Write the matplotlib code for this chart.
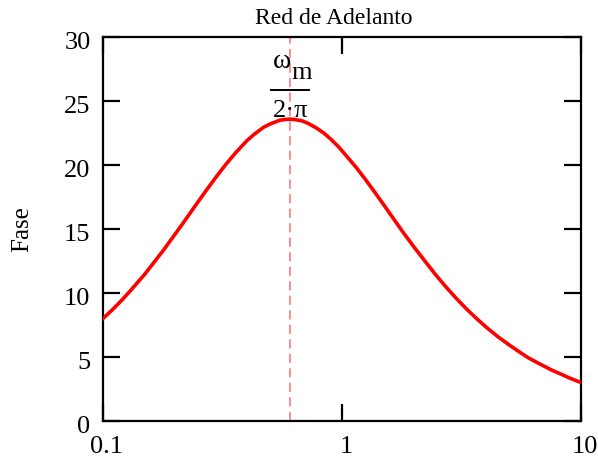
import numpy as np
import matplotlib.pyplot as plt
import matplotlib.transforms as mtransforms

# Datos (frecuencia en escala log, fase en grados)
frecuencia = [0.1, 0.11, 0.12, 0.13, 0.14, 0.15, 0.16, 0.18, 0.2, 0.22, 0.24,
              0.27, 0.3, 0.33, 0.36, 0.4, 0.43, 0.47, 0.5, 0.55, 0.58, 0.605,
              0.63, 0.68, 0.72, 0.78, 0.84, 0.9, 0.97, 1.05, 1.15, 1.25, 1.37,
              1.5, 1.65, 1.8, 2.0, 2.2, 2.45, 2.7, 3.0, 3.3, 3.6, 4.0, 4.5,
              5.0, 5.5, 6.0, 6.7, 7.5, 8.5, 9.0, 10.0]
fase = [8.0, 8.73, 9.45, 10.16, 10.85, 11.5, 12.17, 13.4, 14.58, 15.65, 16.66,
        18.0, 19.16, 20.15, 20.98, 21.9, 22.41, 22.95, 23.2, 23.5, 23.56, 23.58,
        23.56, 23.45, 23.26, 22.9, 22.49, 22.0, 21.4, 20.65, 19.78, 18.9, 17.88,
        16.85, 15.75, 14.75, 13.6, 12.6, 11.49, 10.55, 9.6, 8.8, 8.12, 7.35, 6.57,
        5.95, 5.42, 4.95, 4.47, 4.0, 3.55, 3.34, 3.0]
f_m = 0.605  # omega_m / (2 pi)

y_ticks = [0, 5, 10, 15, 20, 25, 30]
x_ticks = [0.1, 1, 10]
x_labels = ['0.1', '1', '10']

plt.rcParams['font.family'] = ['Liberation Serif', 'DejaVu Serif']

fig = plt.figure(figsize=(5.98, 4.59), dpi=100)
ax = fig.add_axes([0.1722, 0.0828, 0.7994, 0.8366])

ax.plot(frecuencia, fase, color='red', linewidth=2.6, zorder=3,
        solid_joinstyle='round')
ax.axvline(f_m, color='#ff6f6f', linewidth=1.1, dashes=(6, 3.5), zorder=2)

ax.set_xscale('log')
ax.set_xlim(0.1, 10)
ax.set_ylim(0, 30)
ax.set_xticks(x_ticks)
ax.set_xticklabels(x_labels)
ax.minorticks_off()
ax.set_yticks(y_ticks)

for s in ax.spines.values():
    s.set_linewidth(1.6)
ax.tick_params(direction='in', length=12, width=1.6, labelsize=19,
               top=True, right=True, pad=9)
ax.tick_params(axis='x', pad=11)

# desplazar etiquetas como en Mathcad
off_x = mtransforms.ScaledTranslation(4 / 100, 0, fig.dpi_scale_trans)
off_y = mtransforms.ScaledTranslation(0, -4 / 100, fig.dpi_scale_trans)
for lab in ax.get_xticklabels():
    lab.set_transform(lab.get_transform() + off_x)
for lab in ax.get_yticklabels():
    lab.set_transform(lab.get_transform() + off_y)

fig.text(0.5585, 1 - 18 / 459, 'Red de Adelanto', fontsize=17,
         ha='center', va='center')
fig.text(22 / 598, 1 - 229 / 459, 'Fase', rotation=90, fontsize=18,
         ha='center', va='center')

# etiqueta omega_m / (2 pi)
trans = mtransforms.blended_transform_factory(ax.transData, fig.transFigure)
ax.text(f_m * 1.01, 1 - 62 / 459, '\u03c9', transform=trans, fontsize=20,
        ha='right', va='center')
ax.text(f_m * 1.015, 1 - 73 / 459, 'm', transform=trans, fontsize=19,
        ha='left', va='center')
ax.plot([f_m / 1.2, f_m * 1.2], [1 - 90 / 459, 1 - 90 / 459],
        transform=trans, color='black', linewidth=1.4, clip_on=False)
ax.text(f_m * 1.005, 1 - 111 / 459, '2\u00b7\u03c0', transform=trans,
        fontsize=19, ha='center', va='center')

fig.savefig('out.png', dpi=100)
